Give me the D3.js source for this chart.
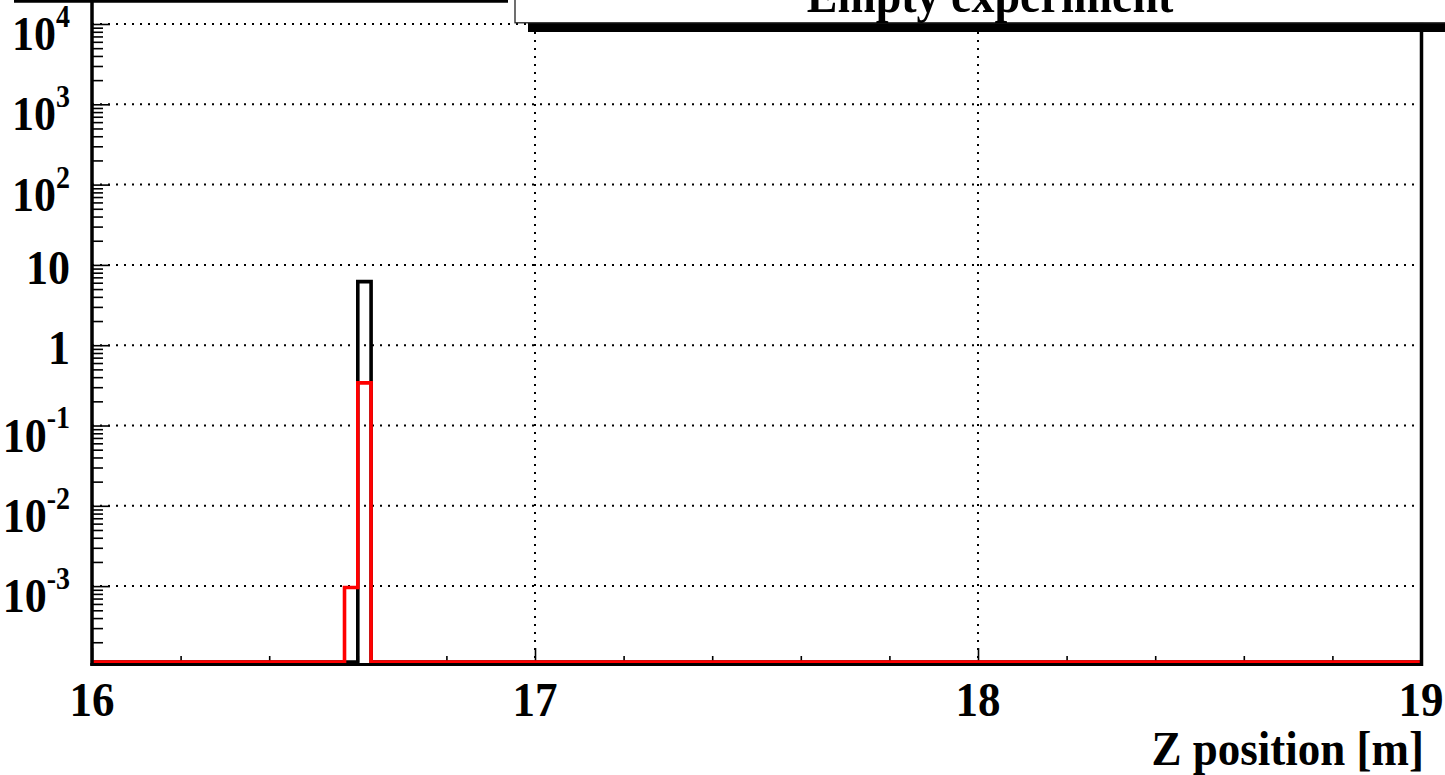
<!DOCTYPE html>
<html><head><meta charset="utf-8">
<script src="https://cdn.jsdelivr.net/npm/d3@7"></script>
<style>
body{margin:0;background:#fff;overflow:hidden}
svg{display:block}
text{font-family:"Liberation Serif","Times New Roman",serif;font-weight:bold;fill:#000}
</style>
</head><body>
<svg id="chart" width="1445" height="775"></svg>
<script>
// ---- data ----
const titleText = "Empty experiment";
const xTitle = "Z position [m]";
const xDomain = [16, 19];
const yDomain = [1.135e-4, 1.99e4];
const binLowEdges = [16.00,16.03,16.06,16.09,16.12,16.15,16.18,16.21,16.24,16.27,
16.30,16.33,16.36,16.39,16.42,16.45,16.48,16.51,16.54,16.57,
16.60,16.63,16.66,16.69,16.72,16.75,16.78,16.81,16.84,16.87,
16.90,16.93,16.96,16.99,17.02,17.05,17.08,17.11,17.14,17.17,
17.20,17.23,17.26,17.29,17.32,17.35,17.38,17.41,17.44,17.47,
17.50,17.53,17.56,17.59,17.62,17.65,17.68,17.71,17.74,17.77,
17.80,17.83,17.86,17.89,17.92,17.95,17.98,18.01,18.04,18.07,
18.10,18.13,18.16,18.19,18.22,18.25,18.28,18.31,18.34,18.37,
18.40,18.43,18.46,18.49,18.52,18.55,18.58,18.61,18.64,18.67,
18.70,18.73,18.76,18.79,18.82,18.85,18.88,18.91,18.94,18.97];
const binWidth = 0.03;
const blackCounts = [0,0,0,0,0,0,0,0,0,0,
0,0,0,0,0,0,0,0,0,0,
6.2,0,0,0,0,0,0,0,0,0,
0,0,0,0,0,0,0,0,0,0,
0,0,0,0,0,0,0,0,0,0,
0,0,0,0,0,0,0,0,0,0,
0,0,0,0,0,0,0,0,0,0,
0,0,0,0,0,0,0,0,0,0,
0,0,0,0,0,0,0,0,0,0,
0,0,0,0,0,0,0,0,0,0];
const redCounts = [0,0,0,0,0,0,0,0,0,0,
0,0,0,0,0,0,0,0,0,9.6e-4,
0.34,0,0,0,0,0,0,0,0,0,
0,0,0,0,0,0,0,0,0,0,
0,0,0,0,0,0,0,0,0,0,
0,0,0,0,0,0,0,0,0,0,
0,0,0,0,0,0,0,0,0,0,
0,0,0,0,0,0,0,0,0,0,
0,0,0,0,0,0,0,0,0,0,
0,0,0,0,0,0,0,0,0,0];
const xMajorTicks = [16, 17, 18, 19];
const xMajorLabels = ["16", "17", "18", "19"];
const xMinorTicks = [16.2,16.4,16.6,16.8,17.2,17.4,17.6,17.8,18.2,18.4,18.6,18.8];
const yMajorTicks = [1e-3, 1e-2, 1e-1, 1, 10, 100, 1e3, 1e4];
const yLabelBase = ["10", "10", "10", "1", "10", "10", "10", "10"];
const yLabelExp  = ["-3", "-2", "-1", "", "", "2", "3", "4"];

// ---- layout ----
const L = 92, R = 1421, T = 0, B = 662;
const SY = 1.1; // vertical stretch of the glyphs
const svg = d3.select("#chart");
const x = d3.scaleLinear().domain(xDomain).range([L, R]);
const y = d3.scaleLog().domain(yDomain).range([B, T]);

const yMinor = [];
for (let e = -4; e <= 4; e++) for (let m = 2; m <= 9; m++) {
  const v = m * Math.pow(10, e);
  if (v > yDomain[0] && v < yDomain[1]) yMinor.push(v);
}

function txt(g, px, py, size, anchor) {
  return g.append("text").attr("transform", `translate(${px},${py}) scale(1,${SY})`)
    .attr("text-anchor", anchor).attr("font-size", size);
}

// grid
const grid = svg.append("g").attr("stroke", "#000").attr("stroke-width", 2)
  .attr("stroke-dasharray", "2,6").attr("fill", "none");
grid.selectAll(".gy").data(yMajorTicks).join("line")
  .attr("x1", L).attr("x2", R).attr("y1", d => y(d)).attr("y2", d => y(d));
grid.selectAll(".gx").data(xMajorTicks.slice(1, -1)).join("line")
  .attr("x1", d => x(d)).attr("x2", d => x(d)).attr("y1", T).attr("y2", B);

// ticks via d3 axes
const axY = svg.append("g").attr("transform", `translate(${L},0)`)
  .call(d3.axisLeft(y).tickValues(yMajorTicks).tickSizeInner(-18).tickSizeOuter(0).tickFormat(""));
const axYm = svg.append("g").attr("transform", `translate(${L},0)`)
  .call(d3.axisLeft(y).tickValues(yMinor).tickSizeInner(-11).tickSizeOuter(0).tickFormat(""));
const axX = svg.append("g").attr("transform", `translate(0,${B})`)
  .call(d3.axisBottom(x).tickValues(xMajorTicks).tickSizeInner(-14).tickSizeOuter(0).tickFormat(""));
const axXm = svg.append("g").attr("transform", `translate(0,${B})`)
  .call(d3.axisBottom(x).tickValues(xMinorTicks).tickSizeInner(-6).tickSizeOuter(0).tickFormat(""));
[axY, axYm, axX, axXm].forEach(g => {
  g.select(".domain").remove();
  g.selectAll("line").attr("stroke", "#000").attr("stroke-width", 1.6);
});

// histograms
function stepPath(counts) {
  const pts = [];
  const yv = v => v > yDomain[0] ? y(v) : B;
  pts.push([x(binLowEdges[0]), B]);
  counts.forEach((c, i) => {
    const x0 = x(binLowEdges[i]), x1 = x(binLowEdges[i] + binWidth);
    pts.push([x0, yv(c)]);
    pts.push([x1, yv(c)]);
  });
  return d3.line()(pts);
}
svg.append("path").attr("d", stepPath(blackCounts)).attr("fill", "none")
  .attr("stroke", "#000").attr("stroke-width", 3.6).attr("stroke-linejoin", "miter");
svg.append("path").attr("d", stepPath(redCounts)).attr("fill", "none")
  .attr("stroke", "#ff0000").attr("stroke-width", 3.6).attr("stroke-linejoin", "miter");

// frame
svg.append("line").attr("x1", L).attr("x2", L).attr("y1", 0).attr("y2", B + 3.5)
  .attr("stroke", "#000").attr("stroke-width", 3.5);
svg.append("line").attr("x1", L - 1.75).attr("x2", R + 2).attr("y1", B + 2.5).attr("y2", B + 2.5)
  .attr("stroke", "#000").attr("stroke-width", 3);
svg.append("line").attr("x1", R + 0.5).attr("x2", R + 0.5).attr("y1", 0).attr("y2", B + 4)
  .attr("stroke", "#000").attr("stroke-width", 3.5);
svg.append("line").attr("x1", 14).attr("x2", 508).attr("y1", 1.3).attr("y2", 1.3)
  .attr("stroke", "#000").attr("stroke-width", 2.8);

// title box
svg.append("rect").attr("x", 528).attr("y", 22.5).attr("width", 940).attr("height", 9.5).attr("fill", "#000");
svg.append("rect").attr("x", 515).attr("y", -5).attr("width", 940).attr("height", 27.8)
  .attr("fill", "#fff").attr("stroke", "#222").attr("stroke-width", 1.3);
txt(svg, 990, 12, 46, "middle").text(titleText);

// y labels
const yl = svg.append("g");
yMajorTicks.forEach((v, i) => {
  const hasExp = yLabelExp[i] !== "";
  const t = txt(yl, 70, y(v) + (hasExp ? 26 : 19), 44, "end");
  t.append("tspan").text(yLabelBase[i]);
  if (hasExp) t.append("tspan").attr("font-size", 28).attr("dy", -21).text(yLabelExp[i]);
});

// x labels
const xl = svg.append("g");
xMajorTicks.forEach((v, i) => { txt(xl, x(v), 716, 45, "middle").text(xMajorLabels[i]); });

// x title
txt(svg, 1424, 765, 45, "end").text(xTitle);
</script>
</body></html>
